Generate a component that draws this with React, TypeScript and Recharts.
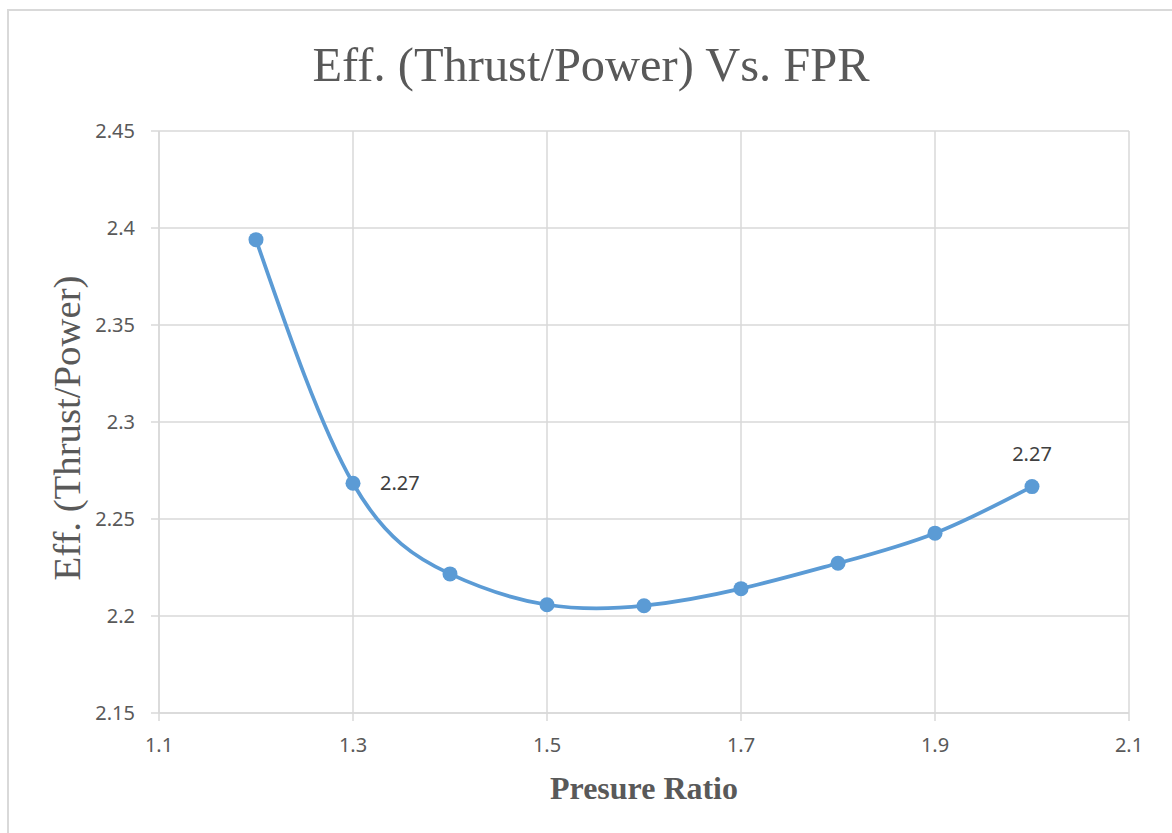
import React from 'react';
import { LineChart, Line, XAxis, YAxis, CartesianGrid, LabelList } from 'recharts';

// fan pressure ratio vs. thrust/power efficiency
const pressureRatio = [1.2, 1.3, 1.4, 1.5, 1.6, 1.7, 1.8, 1.9, 2.0];
const efficiency = [2.394, 2.2684, 2.2217, 2.2058, 2.2053, 2.2141, 2.2272, 2.2427, 2.2667];

const xTicks = [1.1, 1.3, 1.5, 1.7, 1.9, 2.1];
const yTicks = [2.15, 2.2, 2.25, 2.3, 2.35, 2.4, 2.45];

// which points carry a value label, and where it sits
const labelRight = 1;
const labelTop = 8;

const data = pressureRatio.map((fpr, i) => ({ fpr, eff: efficiency[i] }));

const GRID = '#d9d9d9';
const TEXT = '#595959';
const BLUE = '#5b9bd5';

const fmt = (v: number) => String(Number(v.toFixed(2)));

const PointLabel = (props: any) => {
  const { x, y, value, index } = props;
  if (index === labelRight) {
    return (
      <text x={x + 27} y={y} dy="0.35em" fill="#404040" fontSize={20} fontFamily="'Noto Sans', sans-serif">
        {value.toFixed(2)}
      </text>
    );
  }
  if (index === labelTop) {
    return (
      <text x={x} y={y - 26} textAnchor="middle" fill="#404040" fontSize={20} fontFamily="'Noto Sans', sans-serif">
        {value.toFixed(2)}
      </text>
    );
  }
  return null;
};

export default function App() {
  const tickStyle = { fill: TEXT, fontSize: 20, fontFamily: "'Noto Sans', sans-serif" };
  return (
    <div style={{ position: 'absolute', left: 0, top: 0, width: 1172, height: 833, background: '#fff', overflow: 'hidden' }}>
      <div
        style={{
          position: 'absolute',
          left: 7,
          top: 9,
          width: 1200,
          height: 900,
          border: `2px solid ${GRID}`,
        }}
      />
      <div style={{ position: 'absolute', left: 0, top: 0 }}>
        <LineChart width={1172} height={833} data={data} margin={{ top: 131, right: 43, bottom: 90, left: 0 }}>
          <CartesianGrid stroke={GRID} strokeWidth={1.5} verticalValues={xTicks} horizontalValues={yTicks} />
          <XAxis
            dataKey="fpr"
            type="number"
            domain={[1.1, 2.1]}
            ticks={xTicks}
            tickFormatter={fmt}
            height={30}
            stroke={GRID}
            strokeWidth={1.5}
            tickSize={8}
            tickMargin={17}
            tick={tickStyle}
            interval={0}
          />
          <YAxis
            type="number"
            domain={[2.15, 2.45]}
            ticks={yTicks}
            tickFormatter={fmt}
            width={159}
            stroke={GRID}
            strokeWidth={1.5}
            tickSize={8}
            tickMargin={16}
            tick={tickStyle}
            interval={0}
          />
          <Line
            dataKey="eff"
            type="natural"
            stroke={BLUE}
            strokeWidth={3.75}
            dot={{ r: 7.5, fill: BLUE, stroke: BLUE, strokeWidth: 0 }}
            activeDot={false}
            isAnimationActive={false}
          >
            <LabelList dataKey="eff" content={PointLabel} />
          </Line>
        </LineChart>
      </div>
      <svg width={1172} height={833} style={{ position: 'absolute', left: 0, top: 0, pointerEvents: 'none' }}>
        <text
          x={591}
          y={81}
          textAnchor="middle"
          fill={TEXT}
          fontSize={48}
          fontFamily="'Liberation Serif', serif"
          textLength={557}
          lengthAdjust="spacingAndGlyphs"
        >
          Eff. (Thrust/Power) Vs. FPR
        </text>
        <text
          transform="translate(80, 428) rotate(-90)"
          textAnchor="middle"
          fill={TEXT}
          fontSize={38}
          fontFamily="'Liberation Serif', serif"
          textLength={305}
          lengthAdjust="spacingAndGlyphs"
        >
          Eff. (Thrust/Power)
        </text>
        <text
          x={644}
          y={799}
          textAnchor="middle"
          fill={TEXT}
          fontSize={32}
          fontWeight="bold"
          fontFamily="'Liberation Serif', serif"
          textLength={188}
          lengthAdjust="spacingAndGlyphs"
        >
          Presure Ratio
        </text>
      </svg>
    </div>
  );
}
